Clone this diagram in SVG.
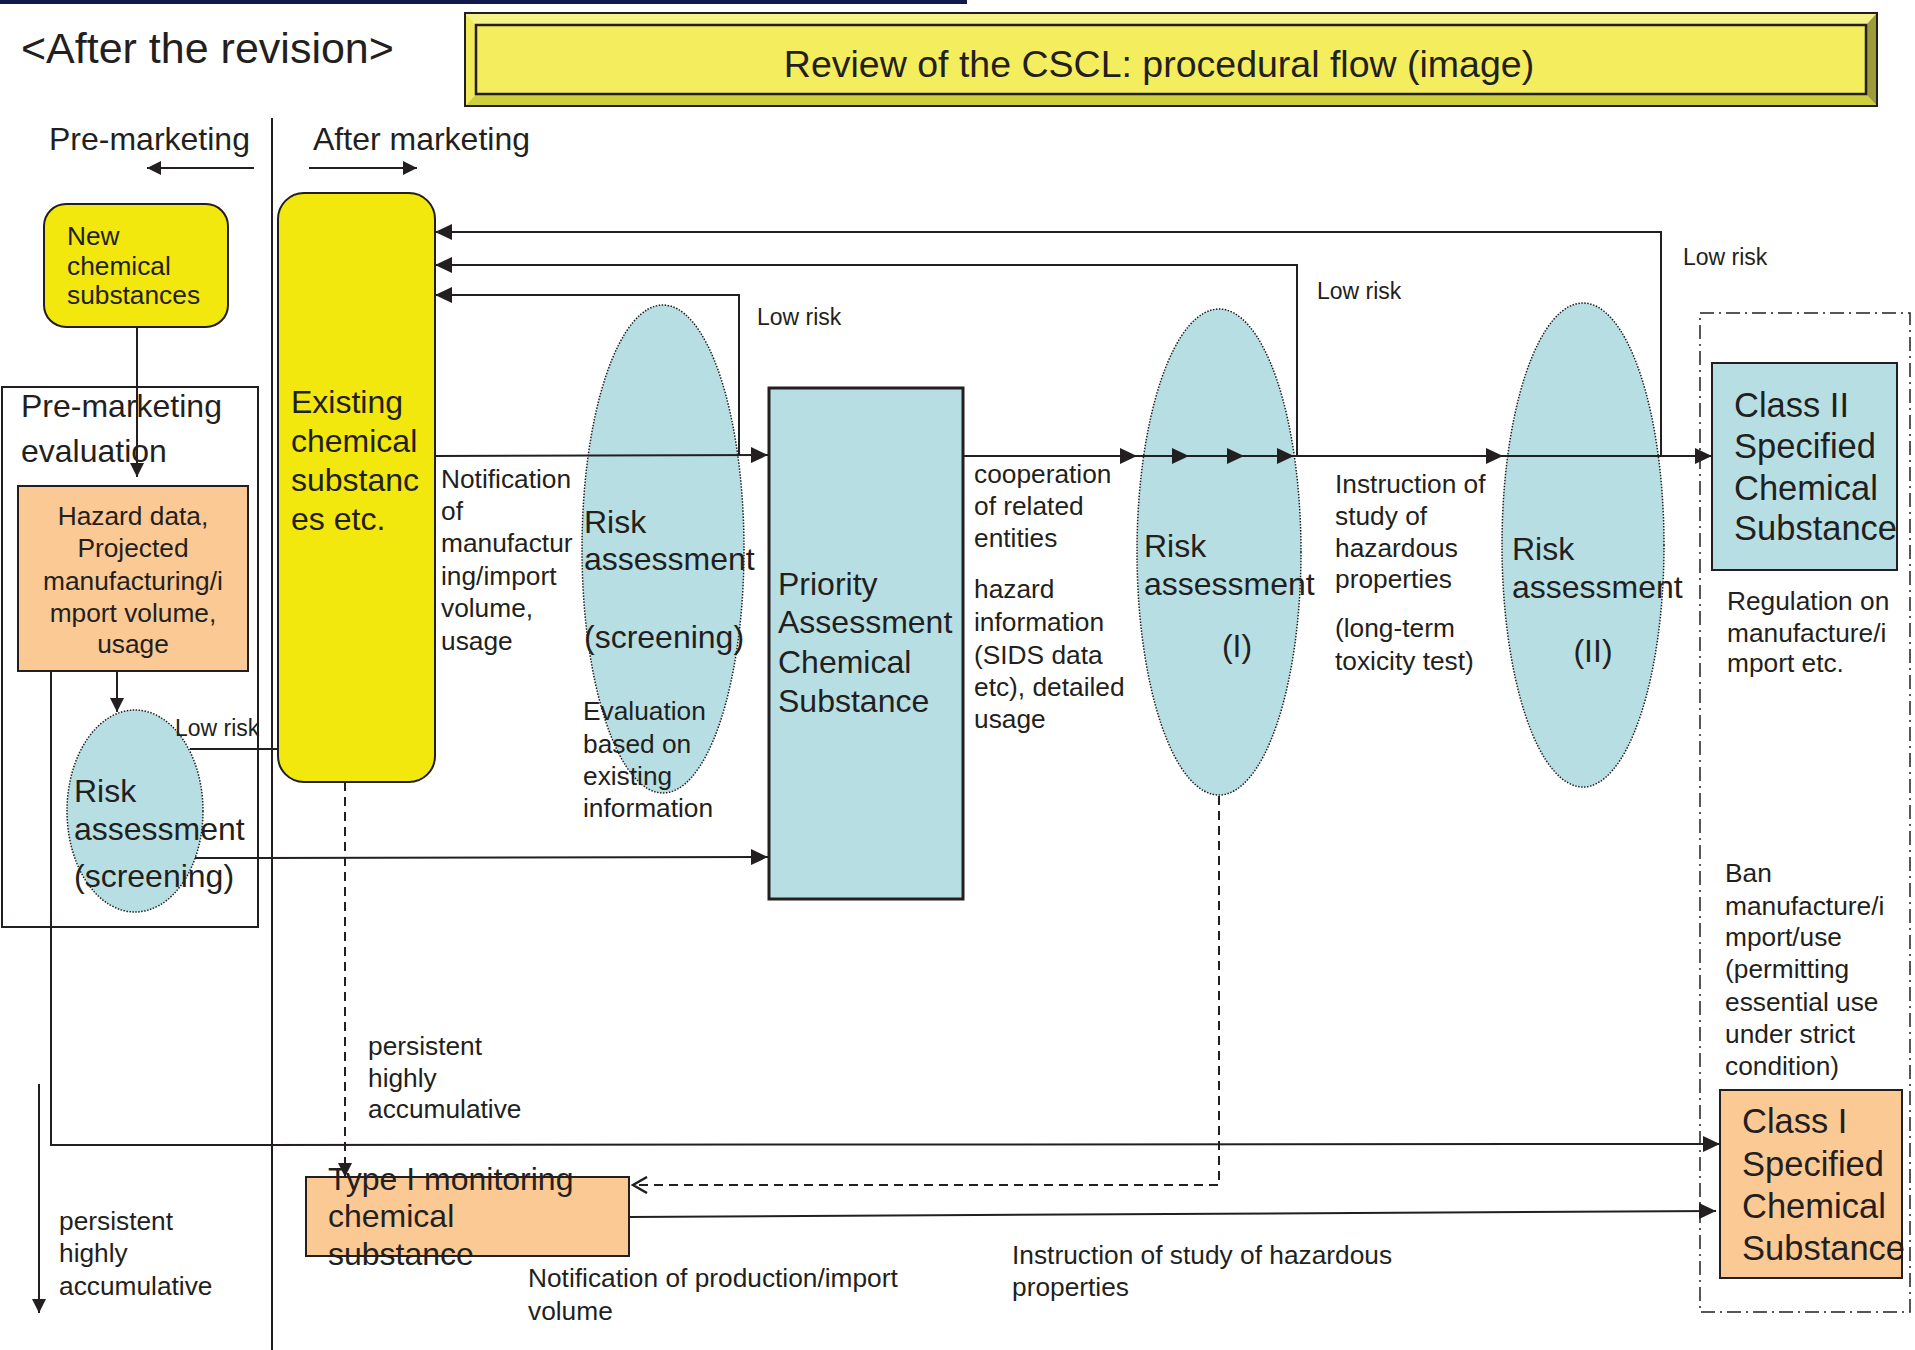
<svg xmlns="http://www.w3.org/2000/svg" width="1915" height="1350" viewBox="0 0 1915 1350">
<defs>
<style>
text{font-family:"Liberation Sans",Arial,sans-serif;fill:#231f20}
.big{font-size:32px}
.sm{font-size:26.3px}
.lr{font-size:23px}
.cls{font-size:34.5px}
.ln{stroke:#231f20;stroke-width:2;fill:none}
.dash{stroke:#231f20;stroke-width:2;fill:none;stroke-dasharray:9 6}
.ell{fill:#b7dfe3;stroke:#231f20;stroke-width:1.5;stroke-dasharray:1.5 1.5}
.yel{fill:#f2e80e;stroke:#231f20;stroke-width:2}
.blu{fill:#b7dfe3;stroke:#231f20;stroke-width:2}
.pch{fill:#fbc994;stroke:#231f20;stroke-width:2}
</style>
<marker id="arr" markerUnits="userSpaceOnUse" markerWidth="18" markerHeight="16" refX="17" refY="8" orient="auto">
<path d="M0,0 L17,8 L0,16 z" fill="#231f20"/>
</marker>
<marker id="arrs" markerUnits="userSpaceOnUse" markerWidth="15" markerHeight="14" refX="14" refY="7" orient="auto">
<path d="M0,0 L14,7 L0,14 z" fill="#231f20"/>
</marker>
<marker id="open" markerUnits="userSpaceOnUse" markerWidth="18" markerHeight="18" refX="16" refY="9" orient="auto">
<path d="M2,1 L16,9 L2,17" fill="none" stroke="#231f20" stroke-width="2.5"/>
</marker>
</defs>
<rect width="1915" height="1350" fill="#ffffff"/>

<g id="header">
<rect x="0" y="0" width="967" height="4" fill="#0f1a4a"/>
<text x="21" y="63" style="font-size:43px">&lt;After the revision&gt;</text>
</g>

<g id="title">
<polygon points="465,13 1877,13 1866,25 476,25" fill="#f6f28a"/>
<polygon points="465,106 1877,106 1866,94 476,94" fill="#cfcf3e"/>
<polygon points="1877,13 1877,106 1866,94 1866,25" fill="#9c9a3a"/>
<polygon points="465,13 476,25 476,94 465,106" fill="#f0ea5a"/>
<rect x="476" y="25" width="1390" height="69" fill="#f4ee5e" stroke="#231f20" stroke-width="2.5"/>
<rect x="465" y="13" width="1412" height="93" fill="none" stroke="#231f20" stroke-width="2"/>
<text x="1159" y="77" text-anchor="middle" style="font-size:37.5px">Review of the CSCL: procedural flow (image)</text>
</g>

<g id="phase-labels">
<line x1="272" y1="118" x2="272" y2="1350" class="ln" stroke-width="1.5"/>
<text x="49" y="150" class="big">Pre-marketing</text>
<text x="313" y="150" class="big">After marketing</text>
<line x1="254" y1="168" x2="147" y2="168" class="ln" marker-end="url(#arrs)"/>
<line x1="309" y1="168" x2="417" y2="168" class="ln" marker-end="url(#arrs)"/>
</g>

<g id="new-chemical">
<rect x="44" y="204" width="184" height="123" rx="22" class="yel"/>
<text x="67" y="245" class="sm">New</text>
<text x="67" y="275" class="sm">chemical</text>
<text x="67" y="304" class="sm">substances</text>
</g>

<g id="premarketing-eval">
<rect x="2" y="387" width="256" height="540" fill="none" stroke="#231f20" stroke-width="2"/>
<text x="21" y="417" class="big">Pre-marketing</text>
<text x="21" y="462" class="big">evaluation</text>
</g>

<g id="hazard-data">
<rect x="18" y="486" width="230" height="185" class="pch"/>
<text x="133" y="525" class="sm" text-anchor="middle">Hazard data,</text>
<text x="133" y="557" class="sm" text-anchor="middle">Projected</text>
<text x="133" y="590" class="sm" text-anchor="middle">manufacturing/i</text>
<text x="133" y="622" class="sm" text-anchor="middle">mport volume,</text>
<text x="133" y="653" class="sm" text-anchor="middle">usage</text>
</g>

<g id="risk-screening-pre">
<ellipse cx="135" cy="811" rx="68" ry="101" class="ell"/>
<text x="74" y="802" class="big">Risk</text>
<text x="74" y="840" class="big">assessment</text>
<text x="74" y="887" class="big">(screening)</text>
</g>

<g id="existing">
<rect x="278" y="193" width="157" height="589" rx="26" class="yel"/>
<text x="291" y="413" class="big">Existing</text>
<text x="291" y="452" class="big">chemical</text>
<text x="291" y="491" class="big">substanc</text>
<text x="291" y="530" class="big">es etc.</text>
</g>

<g id="risk-screening">
<ellipse cx="663" cy="549" rx="81" ry="244" class="ell"/>
<text x="584" y="533" class="big">Risk</text>
<text x="584" y="570" class="big">assessment</text>
<text x="584" y="648" class="big">(screening)</text>
</g>

<g id="priority">
<rect x="769" y="388" width="194" height="511" fill="#b7dfe3" stroke="#231f20" stroke-width="3"/>
<text x="778" y="595" style="font-size:32px">Priority</text>
<text x="778" y="633" style="font-size:32px">Assessment</text>
<text x="778" y="673" style="font-size:32px">Chemical</text>
<text x="778" y="712" style="font-size:32px">Substance</text>
</g>

<g id="risk-1">
<ellipse cx="1219" cy="552" rx="82" ry="243" class="ell"/>
<text x="1144" y="557" class="big">Risk</text>
<text x="1144" y="595" class="big">assessment</text>
<text x="1237" y="657" class="big" text-anchor="middle">(I)</text>
</g>

<g id="risk-2">
<ellipse cx="1583" cy="545" rx="81" ry="242" class="ell"/>
<text x="1512" y="560" class="big">Risk</text>
<text x="1512" y="598" class="big">assessment</text>
<text x="1593" y="662" class="big" text-anchor="middle">(II)</text>
</g>

<g id="specified-group">
<rect x="1700" y="313" width="210" height="999" fill="none" stroke="#231f20" stroke-width="1.5" stroke-dasharray="14 5 2 5"/>
</g>

<g id="class2">
<rect x="1712" y="363" width="185" height="207" class="blu"/>
<text x="1734" y="417" class="cls">Class II</text>
<text x="1734" y="458" class="cls">Specified</text>
<text x="1734" y="500" class="cls">Chemical</text>
<text x="1734" y="540" class="cls">Substance</text>
</g>

<g id="class1">
<rect x="1720" y="1090" width="182" height="188" class="pch"/>
<text x="1742" y="1133" class="cls">Class I</text>
<text x="1742" y="1176" class="cls">Specified</text>
<text x="1742" y="1218" class="cls">Chemical</text>
<text x="1742" y="1260" class="cls">Substance</text>
</g>

<g id="type1">
<rect x="306" y="1177" width="323" height="79" class="pch"/>
<text x="328" y="1190" class="big">Type I monitoring</text>
<text x="328" y="1227" class="big">chemical</text>
<text x="328" y="1265" class="big">substance</text>
</g>

<g id="connectors">
<line x1="137" y1="327" x2="137" y2="477" class="ln" marker-end="url(#arrs)"/>
<line x1="117" y1="671" x2="117" y2="712" class="ln" marker-end="url(#arrs)"/>
<line x1="190" y1="749" x2="278" y2="749" class="ln"/>
<line x1="195" y1="858" x2="768" y2="857" class="ln" marker-end="url(#arr)"/>
<polyline points="51,671 51,1145 1720,1144" class="ln" marker-end="url(#arr)"/>
<line x1="435" y1="456" x2="768" y2="455" class="ln" marker-end="url(#arr)"/>
<polyline points="739,456 739,295 435,295" class="ln" marker-end="url(#arr)"/>
<polyline points="1297,456 1297,265 435,265" class="ln" marker-end="url(#arr)"/>
<polyline points="1661,456 1661,232 435,232" class="ln" marker-end="url(#arr)"/>
<line x1="963" y1="456" x2="1137" y2="456" class="ln" marker-end="url(#arr)"/>
<line x1="1137" y1="456" x2="1189" y2="456" class="ln" marker-end="url(#arr)"/>
<line x1="1189" y1="456" x2="1244" y2="456" class="ln" marker-end="url(#arr)"/>
<line x1="1244" y1="456" x2="1294" y2="456" class="ln" marker-end="url(#arr)"/>
<line x1="1294" y1="456" x2="1503" y2="456" class="ln" marker-end="url(#arr)"/>
<line x1="1503" y1="456" x2="1712" y2="456" class="ln" marker-end="url(#arr)"/>
<line x1="345" y1="782" x2="345" y2="1177" class="dash" marker-end="url(#arrs)"/>
<polyline points="1219,796 1219,1185 633,1185" class="dash" marker-end="url(#open)"/>
<line x1="629" y1="1217" x2="1716" y2="1211" class="ln" marker-end="url(#arr)"/>
<line x1="39" y1="1084" x2="39" y2="1313" class="ln" marker-end="url(#arrs)"/>
</g>

<g id="labels">
<text x="175" y="736" class="lr">Low risk</text>
<text x="757" y="325" class="lr">Low risk</text>
<text x="1317" y="299" class="lr">Low risk</text>
<text x="1683" y="265" class="lr">Low risk</text>
<text x="441" y="488" class="sm">Notification</text>
<text x="441" y="520" class="sm">of</text>
<text x="441" y="552" class="sm">manufactur</text>
<text x="441" y="585" class="sm">ing/import</text>
<text x="441" y="617" class="sm">volume,</text>
<text x="441" y="650" class="sm">usage</text>
<text x="583" y="720" class="sm">Evaluation</text>
<text x="583" y="753" class="sm">based on</text>
<text x="583" y="785" class="sm">existing</text>
<text x="583" y="817" class="sm">information</text>
<text x="974" y="483" class="sm">cooperation</text>
<text x="974" y="515" class="sm">of related</text>
<text x="974" y="547" class="sm">entities</text>
<text x="974" y="598" class="sm">hazard</text>
<text x="974" y="631" class="sm">information</text>
<text x="974" y="664" class="sm">(SIDS data</text>
<text x="974" y="696" class="sm">etc), detailed</text>
<text x="974" y="728" class="sm">usage</text>
<text x="1335" y="493" class="sm">Instruction of</text>
<text x="1335" y="525" class="sm">study of</text>
<text x="1335" y="557" class="sm">hazardous</text>
<text x="1335" y="588" class="sm">properties</text>
<text x="1335" y="637" class="sm">(long-term</text>
<text x="1335" y="670" class="sm">toxicity test)</text>
<text x="1727" y="610" class="sm">Regulation on</text>
<text x="1727" y="642" class="sm">manufacture/i</text>
<text x="1727" y="672" class="sm">mport etc.</text>
<text x="1725" y="882" class="sm">Ban</text>
<text x="1725" y="915" class="sm">manufacture/i</text>
<text x="1725" y="946" class="sm">mport/use</text>
<text x="1725" y="978" class="sm">(permitting</text>
<text x="1725" y="1011" class="sm">essential use</text>
<text x="1725" y="1043" class="sm">under strict</text>
<text x="1725" y="1075" class="sm">condition)</text>
<text x="368" y="1055" class="sm">persistent</text>
<text x="368" y="1087" class="sm">highly</text>
<text x="368" y="1118" class="sm">accumulative</text>
<text x="59" y="1230" class="sm">persistent</text>
<text x="59" y="1262" class="sm">highly</text>
<text x="59" y="1295" class="sm">accumulative</text>
<text x="528" y="1287" class="sm">Notification of production/import</text>
<text x="528" y="1320" class="sm">volume</text>
<text x="1012" y="1264" class="sm">Instruction of study of hazardous</text>
<text x="1012" y="1296" class="sm">properties</text>
</g>
</svg>
